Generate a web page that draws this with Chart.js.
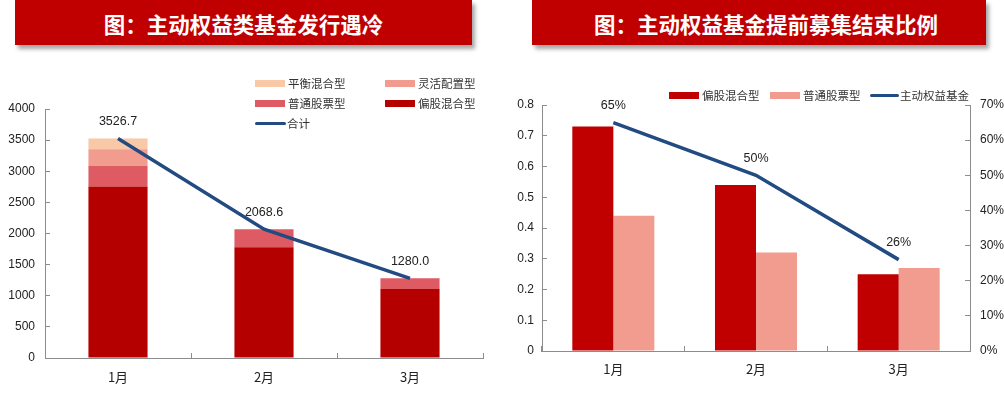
<!DOCTYPE html>
<html>
<head>
<meta charset="utf-8">
<script src="https://cdn.jsdelivr.net/npm/chart.js@4/dist/chart.umd.min.js"></script>
<style>
body { margin: 0; background: #fff; width: 1004px; height: 393px; overflow: hidden; position: relative;
       font-family: "Liberation Sans", "Noto Sans CJK SC", sans-serif; }
.banner { position: absolute; top: 0; height: 45px; background: #c00000; color: #fff;
          font-family: "Noto Sans CJK SC", sans-serif; font-weight: bold; font-size: 21.5px;
          line-height: 47px; text-align: center; box-shadow: 3px 4px 4px rgba(0,0,0,0.35); }
.chartBox { position: absolute; top: 0; height: 393px; }
.legend { position: absolute; font-family: "Noto Sans CJK SC", sans-serif; font-size: 11.5px; color: #333; }
.legend .item { display: flex; align-items: center; height: 20px; white-space: nowrap; }
.legend .sw { display: inline-block; width: 30px; height: 7px; margin-right: 3px; }
.legend .ln { display: inline-block; width: 31px; height: 3px; border-radius: 2px; margin-right: 1px; }
#legendLeft { left: 255px; top: 73px; display: grid; grid-template-columns: 130px 130px; }
#legendRight { left: 669px; top: 85px; display: flex; }
</style>
</head>
<body>
<div class="banner" style="left:15px;width:457px;">图：主动权益类基金发行遇冷</div>
<div class="banner" style="left:532px;width:454px;padding-left:14px;box-sizing:border-box;">图：主动权益基金提前募集结束比例</div>

<div class="chartBox" style="left:0;width:500px;"><canvas id="leftChart" width="500" height="393"></canvas></div>
<div class="chartBox" style="left:500px;width:504px;"><canvas id="rightChart" width="504" height="393"></canvas></div>
<div class="legend" id="legendLeft"></div>
<div class="legend" id="legendRight"></div>

<script>
// 主动权益类基金发行规模（亿份）
var months = ["1月", "2月", "3月"];
var pianGuHunHe = [2755, 1780, 1110];
var puTongGuPiao = [330, 288.6, 170];
var lingHuoPeiZhi = [270, 0, 0];
var pingHengHunHe = [171.7, 0, 0];
var heJi = [3526.7, 2068.6, 1280.0];

// 提前募集结束比例
var earlyPianGu = [0.73, 0.54, 0.25];
var earlyPuTong = [0.44, 0.32, 0.27];
var earlyTotal = [65, 50, 26];

var axisColor = '#8c8c8c';
var tickFont = { family: '"Liberation Sans", "Noto Sans CJK SC", sans-serif', size: 12 };
var catFont = { family: '"Noto Sans CJK SC", "Liberation Sans", sans-serif', size: 13 };

var lineLabels = {
    id: 'lineLabels',
    afterDatasetsDraw: function(chart, args, opts) {
        var ctx = chart.ctx;
        chart.data.datasets.forEach(function(ds, i) {
            if (ds.type != 'line') return;
            var meta = chart.getDatasetMeta(i);
            meta.data.forEach(function(pt, j) {
                ctx.save();
                ctx.font = '12.5px "Liberation Sans", sans-serif';
                ctx.fillStyle = '#222';
                ctx.textAlign = 'center';
                ctx.textBaseline = 'middle';
                ctx.fillText(opts.format(ds.data[j]), pt.x, pt.y - 17);
                ctx.restore();
            });
        });
    }
};

function buildLegend(chart, el, order) {
    order.forEach(function(i) {
        var ds = chart.data.datasets[i];
        var item = document.createElement('div');
        item.className = 'item';
        var sw = document.createElement('span');
        if (ds.type == 'line') {
            sw.className = 'ln';
            sw.style.background = ds.borderColor;
        } else {
            sw.className = 'sw';
            sw.style.background = ds.backgroundColor;
        }
        item.appendChild(sw);
        item.appendChild(document.createTextNode(ds.label));
        el.appendChild(item);
    });
}

var leftChart = new Chart(document.getElementById('leftChart'), {
    type: 'bar',
    data: {
        labels: months,
        datasets: [
            { label: '偏股混合型', data: pianGuHunHe, backgroundColor: '#b50000', order: 1 },
            { label: '普通股票型', data: puTongGuPiao, backgroundColor: '#df5b64', order: 1 },
            { label: '灵活配置型', data: lingHuoPeiZhi, backgroundColor: '#f29b8f', order: 1 },
            { label: '平衡混合型', data: pingHengHunHe, backgroundColor: '#f8c8a7', order: 1 },
            { type: 'line', label: '合计', data: heJi, borderColor: '#224b82', borderWidth: 3.5,
              pointRadius: 0, tension: 0, stack: 'total', order: 0 }
        ]
    },
    options: {
        responsive: false,
        animation: false,
        layout: { padding: { left: 0, right: 17, top: 109, bottom: 0 } },
        datasets: { bar: { categoryPercentage: 0.405, barPercentage: 1, borderWidth: 0 } },
        plugins: {
            legend: { display: false },
            tooltip: { enabled: false },
            lineLabels: { format: function(v) { return v.toFixed(1); } }
        },
        scales: {
            x: {
                stacked: true,
                grid: { display: true, drawOnChartArea: false, tickLength: -5, color: axisColor, offset: true },
                border: { color: axisColor },
                ticks: { font: catFont, color: '#222', padding: 16 },
                afterFit: function(s) { s.height = 35; }
            },
            y: {
                stacked: true,
                min: 0, max: 4000,
                grid: { drawOnChartArea: false, tickLength: -5, color: axisColor },
                border: { color: axisColor },
                ticks: { stepSize: 500, font: tickFont, color: '#222', padding: 15,
                         callback: function(v) { return String(v); } },
                afterFit: function(s) { s.width = 45; }
            }
        }
    },
    plugins: [lineLabels]
});
buildLegend(leftChart, document.getElementById('legendLeft'), [3, 2, 1, 0, 4]);

var rightChart = new Chart(document.getElementById('rightChart'), {
    type: 'bar',
    data: {
        labels: months,
        datasets: [
            { label: '偏股混合型', data: earlyPianGu, backgroundColor: '#c00000', yAxisID: 'y', order: 1 },
            { label: '普通股票型', data: earlyPuTong, backgroundColor: '#f19c8f', yAxisID: 'y', order: 1 },
            { type: 'line', label: '主动权益基金', data: earlyTotal, borderColor: '#224b82', borderWidth: 3.5,
              pointRadius: 0, tension: 0, yAxisID: 'y2', order: 0 }
        ]
    },
    options: {
        responsive: false,
        animation: false,
        layout: { padding: { left: 0, right: 0, top: 105, bottom: 0 } },
        datasets: { bar: { categoryPercentage: 0.575, barPercentage: 1, borderWidth: 0 } },
        plugins: {
            legend: { display: false },
            tooltip: { enabled: false },
            lineLabels: { format: function(v) { return v + '%'; } }
        },
        scales: {
            x: {
                grid: { display: true, drawOnChartArea: false, tickLength: -5, color: axisColor, offset: true },
                border: { color: axisColor },
                ticks: { font: catFont, color: '#222', padding: 15 },
                afterFit: function(s) { s.height = 42; }
            },
            y: {
                position: 'left',
                min: 0, max: 0.8,
                grid: { drawOnChartArea: false, tickLength: -5, color: axisColor },
                border: { color: axisColor },
                ticks: { stepSize: 0.1, font: tickFont, color: '#222', padding: 13,
                         callback: function(v) { return String(Math.round(v * 10) / 10); } },
                afterFit: function(s) { s.width = 42; }
            },
            y2: {
                position: 'right',
                min: 0, max: 70,
                grid: { drawOnChartArea: false, tickLength: -5, color: axisColor },
                border: { color: axisColor },
                ticks: { stepSize: 10, font: tickFont, color: '#222', padding: 15,
                         callback: function(v) { return v + '%'; } },
                afterFit: function(s) { s.width = 34; }
            }
        }
    },
    plugins: [lineLabels]
});
buildLegend(rightChart, document.getElementById('legendRight'), [0, 1, 2]);
var rItems = document.querySelectorAll('#legendRight .item');
rItems[0].style.width = '101px';
rItems[1].style.width = '100px';
rItems[2].querySelector('.ln').style.width = '29px';
</script>
</body>
</html>
